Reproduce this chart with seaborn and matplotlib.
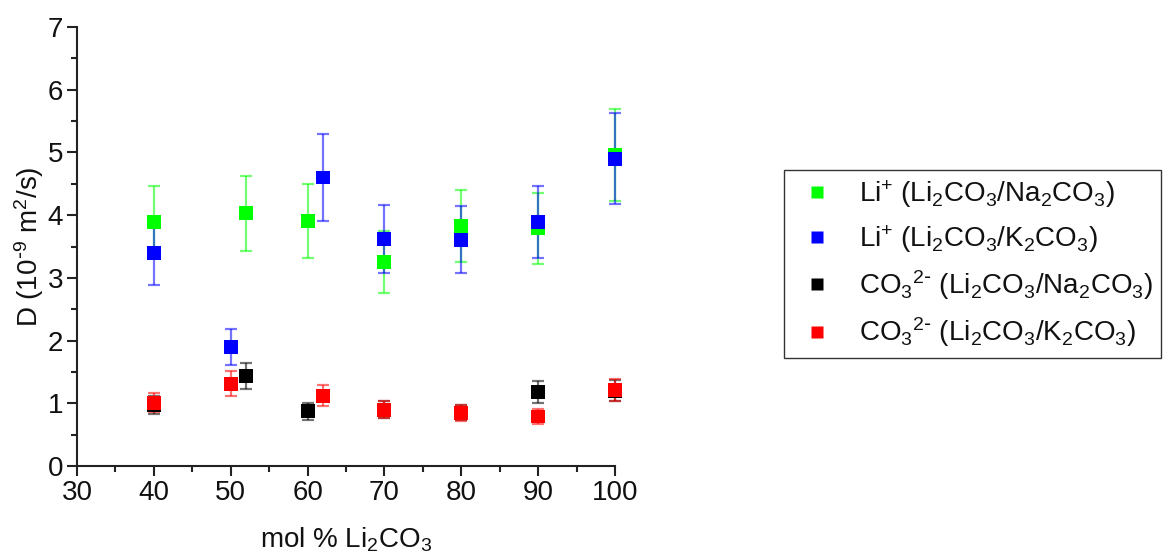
import numpy as np
import pandas as pd
import matplotlib
matplotlib.use('Agg')
import matplotlib.pyplot as plt
from matplotlib.ticker import MultipleLocator
import seaborn as sns

# mol % Li2CO3 for each mixture series
x_li_na = [40, 52, 60, 70, 80, 90, 100]
x_li_k = [40, 50, 62, 70, 80, 90, 100]

# diffusion coefficients (10^-9 m2/s) and error bars
d_li_na = [3.89, 4.03, 3.91, 3.25, 3.83, 3.79, 4.96]
e_li_na = [0.58, 0.60, 0.59, 0.49, 0.57, 0.57, 0.74]
d_li_k = [3.40, 1.90, 4.60, 3.62, 3.61, 3.89, 4.90]
e_li_k = [0.51, 0.29, 0.69, 0.54, 0.54, 0.58, 0.73]
d_co3_na = [0.97, 1.44, 0.87, 0.90, 0.85, 1.18, 1.20]
e_co3_na = [0.14, 0.21, 0.13, 0.13, 0.12, 0.18, 0.17]
d_co3_k = [1.01, 1.31, 1.12, 0.90, 0.85, 0.79, 1.21]
e_co3_k = [0.15, 0.20, 0.17, 0.135, 0.125, 0.12, 0.18]

labels = [
    r'Li$^{+}$ (Li$_{2}$CO$_{3}$/Na$_{2}$CO$_{3}$)',
    r'Li$^{+}$ (Li$_{2}$CO$_{3}$/K$_{2}$CO$_{3}$)',
    r'CO$_{3}$$^{2\text{-}}$ (Li$_{2}$CO$_{3}$/Na$_{2}$CO$_{3}$)',
    r'CO$_{3}$$^{2\text{-}}$ (Li$_{2}$CO$_{3}$/K$_{2}$CO$_{3}$)',
]
colors = ['#00ff00', '#0000ff', '#000000', '#ff0000']

series = [
    (x_li_na, d_li_na, e_li_na),
    (x_li_k, d_li_k, e_li_k),
    (x_li_na, d_co3_na, e_co3_na),
    (x_li_k, d_co3_k, e_co3_k),
]

rows = []
for lab, (xs, ys, es) in zip(labels, series):
    for xv, yv, ev in zip(xs, ys, es):
        rows.append({'x': xv, 'D': yv, 'err': ev, 'series': lab})
df = pd.DataFrame(rows)

sns.set_style('ticks')
plt.rcParams['font.family'] = ['Liberation Sans', 'DejaVu Sans']
plt.rcParams['mathtext.default'] = 'regular'
plt.rcParams['text.color'] = '#111111'
plt.rcParams['axes.labelcolor'] = '#111111'
plt.rcParams['xtick.labelcolor'] = '#111111'
plt.rcParams['ytick.labelcolor'] = '#111111'
FS = 20

fig = plt.figure(figsize=(11.63, 5.57), dpi=100)
ax = fig.add_axes([77 / 1163, 1 - 466 / 557, (615 - 77) / 1163, (466 - 27) / 557])

for lab, col in zip(labels, colors):
    sub = df[df['series'] == lab]
    eb = ax.errorbar(sub['x'], sub['D'], yerr=sub['err'], fmt='none', ecolor=col,
                     alpha=0.55, elinewidth=1.6, capsize=4.5, capthick=1.6, zorder=2)
    for art in eb.lines[1] + eb.lines[2]:
        art.set_clip_on(False)

sns.scatterplot(data=df, x='x', y='D', hue='series', hue_order=labels,
                palette=dict(zip(labels, colors)), marker='s', s=100,
                edgecolor='none', ax=ax, zorder=3, clip_on=False)

ax.set_xlim(30, 100)
ax.set_ylim(0, 7)
ax.xaxis.set_major_locator(MultipleLocator(10))
ax.xaxis.set_minor_locator(MultipleLocator(5))
ax.yaxis.set_major_locator(MultipleLocator(1))
ax.yaxis.set_minor_locator(MultipleLocator(0.5))
ax.tick_params(which='major', length=7, width=1.5, labelsize=FS, direction='out',
               color='#222222', pad=3)
ax.tick_params(which='minor', length=4, width=1.5, direction='out', color='#222222')
for sp in ['left', 'bottom']:
    ax.spines[sp].set_linewidth(1.5)
    ax.spines[sp].set_color('#222222')
sns.despine(ax=ax)

ax.set_xlabel(r'mol % Li$_{2}$CO$_{3}$', fontsize=FS, labelpad=14)
ax.set_ylabel(r'D (10$^{\text{-}9}$ m$^{2}$/s)', fontsize=FS, labelpad=1)

handles, _ = ax.get_legend_handles_labels()
ax.legend(handles, labels, loc='upper left', bbox_to_anchor=(784 / 1163, 1 - 170 / 557),
          bbox_transform=fig.transFigure, borderaxespad=0, fontsize=FS,
          frameon=True, fancybox=False, edgecolor='#333333', framealpha=1,
          markerscale=0.85, handletextpad=0.6, labelspacing=0.48,
          borderpad=0.3, handlelength=1.8)
ax.get_legend().get_frame().set_linewidth(1.0)

fig.savefig('out.png', dpi=100)
